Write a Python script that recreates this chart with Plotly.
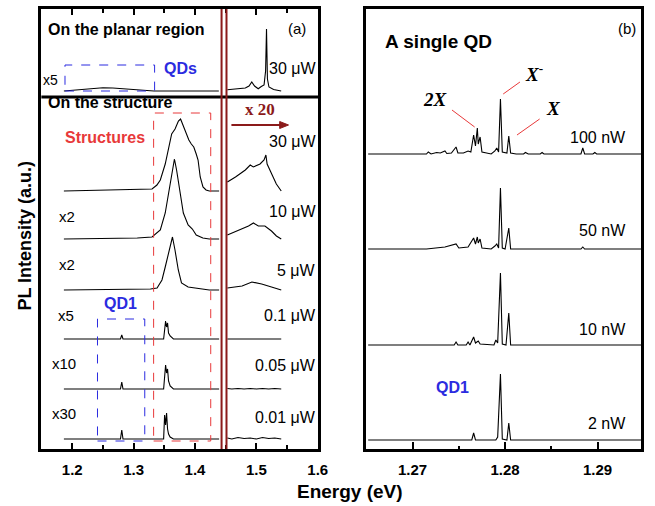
import plotly.graph_objects as go

W, H = 655, 506

# ---------------- Panel (a): energies (eV) and PL intensities (a.u., as displayed) -------------
planar_left_E = [1.1864, 1.210, 1.234, 1.250, 1.266, 1.290, 1.314, 1.333, 1.4388]
planar_left_I = [0, 1.5, 2.5, 3.3, 3, 2, 1, 0, 0]
planar_right_E = [1.4527, 1.470, 1.482, 1.488, 1.4925, 1.497, 1.503, 1.508, 1.5125, 1.5150,
                  1.5165, 1.5180, 1.5205, 1.528, 1.5404]
planar_right_I = [1.3, 2, 3, 5, 9, 5, 2.3, 4.5, 6, 20, 62, 12, 4, 1.5, 0]

s30_left_E = [1.1864, 1.2423, 1.330, 1.338, 1.3435, 1.3515, 1.357, 1.362, 1.3675, 1.373, 1.3765,
              1.3785, 1.381, 1.384, 1.386, 1.390, 1.394, 1.398, 1.402, 1.405, 1.4085, 1.413,
              1.418, 1.4233, 1.4393]
s30_left_I = [0, 0.7, 2, 6, 11, 27, 44, 57, 62, 70, 72, 69, 66, 61, 57, 51, 47, 44, 37, 31, 14, 4,
              1, 0, 0]
s30_right_E = [1.4527, 1.466, 1.482, 1.490, 1.495, 1.506, 1.5125, 1.5155, 1.5175, 1.5245, 1.5325, 1.5405]
s30_right_I = [9, 14, 21, 26, 24, 27, 31, 36, 27, 17, 7, 0]

s10_left_E = [1.1864, 1.306, 1.330, 1.3435, 1.3515, 1.357, 1.362, 1.3665, 1.370, 1.3754, 1.381,
              1.3888, 1.3957, 1.402, 1.4128, 1.4233, 1.4393]
s10_left_I = [0, 1, 2, 9, 26, 46, 66, 80, 69, 46, 26, 14, 10, 4, 1, 0, 0]
s10_right_E = [1.4527, 1.4712, 1.4872, 1.4952, 1.5032, 1.5139, 1.5246, 1.5326, 1.5405]
s10_right_I = [4, 9, 13, 16, 13, 13, 8, 3, 0]

s5_left_E = [1.1864, 1.3275, 1.3382, 1.3462, 1.3515, 1.357, 1.3633, 1.3674, 1.3728, 1.378, 1.3888,
             1.4233, 1.4393]
s5_left_I = [0, 1, 2, 10, 23, 37, 53, 40, 20, 7, 3, 0, 0]
s5_right_E = [1.4527, 1.4767, 1.4927, 1.5086, 1.5246, 1.5405]
s5_right_I = [2, 4, 8, 6, 3, 0]

low_left_E = [1.1864, 1.2786, 1.2807, 1.2827, 1.3489, 1.3505, 1.3521, 1.3537, 1.3553, 1.3569,
              1.3595, 1.3649, 1.4393]
s01_left_I = [0, 0, 4, 0, 0, 14, 18, 12, 16, 6, 3, 0, 0]
s005_left_I = [0, 0, 7, 0, 0, 18, 24, 16, 20, 8, 3, 0, 0]
s001_left_I = [0, 0, 9, 0, 0, 24, 14, 26, 10, 5, 2, 0, 0]
low_right_E = [1.4527, 1.46, 1.47, 1.48, 1.49, 1.50, 1.51, 1.52, 1.53, 1.5405]
s01_right_I = [0, 0, 0, 0, 0, 0, 0, 0, 0, 0]
s005_right_I = [0.5, 0, 0.5, 0, 0.5, 0, 0.5, 0, 0.5, 0]
s001_right_I = [1, 0, 1.5, 0.5, 1, 0, 1.5, 0.5, 1, 0]

x_ticks_a = [1.2, 1.3, 1.4, 1.5, 1.6]
x_minor_a = [1.25, 1.35, 1.45, 1.55]

# ---------------- Panel (b): a single QD -------------
b100_E = [1.2652, 1.2700, 1.2715, 1.2717, 1.2720, 1.2726, 1.2730, 1.2735, 1.2737, 1.2742, 1.2747,
          1.2749, 1.2755, 1.2760, 1.2763, 1.2766, 1.2768, 1.2770, 1.2771, 1.2773, 1.2775, 1.2780,
          1.2785, 1.2789, 1.2791, 1.2793, 1.2795, 1.2797, 1.2800, 1.2802, 1.2804, 1.2806, 1.2812,
          1.2820, 1.2822, 1.2825, 1.2838, 1.2840, 1.2842, 1.2882, 1.2884, 1.2886, 1.2895, 1.2897,
          1.2899, 1.2947]
b100_I = [0, 0, 0, 2, 0, 1.5, 1, 3, 0.5, 1, 7,
          1, 1, 3, 2, 19, 8, 26, 10, 17, 2, 1,
          0, 3, 6, 2, 55, 2, 1, 1, 18, 1, 0,
          0, 1.5, 0, 0, 1.5, 0, 0, 6, 0, 0, 1.5,
          0, 0]
b50_E = [1.2652, 1.2715, 1.2725, 1.2735, 1.2747, 1.2750, 1.2760, 1.2766, 1.2768, 1.2770, 1.2771,
         1.2773, 1.2775, 1.2785, 1.2789, 1.2791, 1.2793, 1.2795, 1.2797, 1.2800, 1.2804, 1.2806,
         1.2812, 1.2882, 1.2884, 1.2886, 1.2947]
b50_I = [0, 0, 1, 2, 5, 1, 2, 11, 5, 12, 6,
         10, 1, 0, 3, 5, 1, 61, 1, 0, 21, 0,
         0, 0, 2, 0, 0]
b10_E = [1.2652, 1.2745, 1.2747, 1.2749, 1.2758, 1.2760, 1.2762, 1.2766, 1.2768, 1.2771, 1.2773,
         1.2788, 1.2790, 1.2792, 1.2795, 1.2797, 1.2801, 1.2804, 1.2806, 1.2947]
b10_I = [0, 0, 3, 0, 0, 3, 0, 8, 2, 4, 1,
         0, 5, 2, 72, 1, 0, 32, 0, 0]
b2_E = [1.2652, 1.2764, 1.2766, 1.2768, 1.2790, 1.2792, 1.2795, 1.2797, 1.2802, 1.2804, 1.2806, 1.2947]
b2_I = [0, 0, 7, 0, 0, 3, 66, 1, 0, 17, 0, 0]

x_ticks_b = [1.27, 1.28, 1.29]
x_minor_b = [1.275, 1.285]

# ---------------- layout helpers -------------
SANS = "Liberation Sans, Arial, sans-serif"
SERIF = "Liberation Serif, Times New Roman, serif"
MAROON = "#8B1A1A"
RED = "#E8393A"
BLUE = "#2B2BE0"


def px(x):
    return x / W


def py(y):
    return 1 - y / H


fig = go.Figure()


def add_curve(E, I, offset, xa="x", ya="y"):
    fig.add_trace(go.Scatter(x=E, y=[v + offset for v in I], mode="lines",
                             line=dict(color="black", width=1.1), xaxis=xa, yaxis=ya,
                             showlegend=False, hoverinfo="skip"))


# panel (a) vertical offsets (stacking)
add_curve(planar_left_E, planar_left_I, 358)
add_curve(planar_right_E, planar_right_I, 358)
for le, li, re_, ri, off in [
    (s30_left_E, s30_left_I, s30_right_E, s30_right_I, 258),
    (s10_left_E, s10_left_I, s10_right_E, s10_right_I, 210),
    (s5_left_E, s5_left_I, s5_right_E, s5_right_I, 159),
    (low_left_E, s01_left_I, low_right_E, s01_right_I, 110),
    (low_left_E, s005_left_I, low_right_E, s005_right_I, 60),
    (low_left_E, s001_left_I, low_right_E, s001_right_I, 10),
]:
    add_curve(le, li, off)
    add_curve(re_, ri, off)

# panel (b)
for E, I, off in [(b100_E, b100_I, 295), (b50_E, b50_I, 200), (b10_E, b10_I, 104), (b2_E, b2_I, 9)]:
    add_curve(E, I, off, "x2", "y2")

ydom = [py(449), py(9)]
axis_common = dict(showline=True, linecolor="black", linewidth=2.5, showgrid=False,
                   zeroline=False)
tickfont = dict(family=SANS, size=15, color="black", weight="bold")
fig.update_layout(
    width=W, height=H, margin=dict(l=0, r=0, t=0, b=0),
    paper_bgcolor="white", plot_bgcolor="white", showlegend=False,
    xaxis=dict(domain=[px(42), px(323)], range=[1.1497, 1.6005], anchor="y",
               tickvals=x_ticks_a, ticktext=[f"{v:.1f}" for v in x_ticks_a],
               ticks="inside", ticklen=6, tickwidth=2, tickcolor="black", mirror="allticks",
               minor=dict(tickvals=x_minor_a, ticks="inside", ticklen=4, tickwidth=1.5,
                          tickcolor="black", showgrid=False),
               tickfont=tickfont, ticklabelstandoff=5, **axis_common),
    yaxis=dict(domain=ydom, range=[0, 440], anchor="x", showticklabels=False, ticks="",
               mirror=True, **axis_common),
    xaxis2=dict(domain=[px(372), px(651)], range=[1.265, 1.2947], anchor="y2",
                tickvals=x_ticks_b, ticktext=[f"{v:.2f}" for v in x_ticks_b],
                ticks="inside", ticklen=7, tickwidth=2, tickcolor="black", mirror=True,
                minor=dict(tickvals=x_minor_b, ticks="inside", ticklen=3, tickwidth=1.5,
                           tickcolor="black", showgrid=False),
                tickfont=tickfont, ticklabelstandoff=5, **axis_common),
    yaxis2=dict(domain=ydom, range=[0, 440], anchor="x2", showticklabels=False, ticks="",
                mirror=True, **axis_common),
)

shapes = []
# divider between planar region and structure
shapes.append(dict(type="line", xref="paper", yref="paper", x0=px(42), x1=px(323),
                   y0=py(97), y1=py(97), line=dict(color="black", width=2.8)))
# double maroon break lines
for xx in (225, 230):
    shapes.append(dict(type="line", xref="paper", yref="paper", x0=px(xx), x1=px(xx),
                       y0=py(9), y1=py(449), line=dict(color=MAROON, width=2)))
# dashed boxes
shapes.append(dict(type="rect", xref="paper", yref="paper", x0=px(66), x1=px(157),
                   y0=py(91), y1=py(65), line=dict(color=BLUE, width=1, dash="dash")))
shapes.append(dict(type="rect", xref="paper", yref="paper", x0=px(156), x1=px(214),
                   y0=py(441), y1=py(113), line=dict(color=RED, width=1, dash="dash")))
shapes.append(dict(type="rect", xref="paper", yref="paper", x0=px(99), x1=px(147),
                   y0=py(441), y1=py(319), line=dict(color=BLUE, width=1, dash="dash")))
# "x 20" arrow
shapes.append(dict(type="line", xref="paper", yref="paper", x0=px(235), x1=px(286),
                   y0=py(125), y1=py(125), line=dict(color=MAROON, width=2)))
shapes.append(dict(type="path", xref="paper", yref="paper",
                   path=f"M {px(293)} {py(125)} L {px(284)} {py(121.5)} L {px(284)} {py(128.5)} Z",
                   fillcolor=MAROON, line=dict(color=MAROON, width=1)))
# leader lines in (b)
for (xa, ya, xb, yb) in [(459, 110, 482, 127), (528, 82, 511, 94), (548, 119, 525, 135)]:
    shapes.append(dict(type="line", xref="paper", yref="paper", x0=px(xa), y0=py(ya),
                       x1=px(xb), y1=py(yb), line=dict(color=RED, width=1)))
fig.update_layout(shapes=shapes)

anns = []


def ann(text, x, y, size=14, color="black", family=SANS, xanchor="center", angle=0):
    anns.append(dict(text=text, x=px(x), y=py(y), xref="paper", yref="paper", showarrow=False,
                     xanchor=xanchor, yanchor="middle", textangle=angle,
                     font=dict(family=family, size=size, color=color)))


ann("<b>On the planar region</b>", 47, 30, 16, xanchor="left")
ann("(a)", 302, 28, 15)
ann("<b>QDs</b>", 183, 68, 16, BLUE)
ann("x5", 51, 80, 14)
ann("30 \u03bcW", 323, 68, 16, xanchor="right")
ann("<b>On the structure</b>", 47, 103, 16, xanchor="left")
ann("<b>Structures</b>", 107, 137, 16, RED)
ann("<b>QD1</b>", 122, 303, 16, BLUE)
for txt, yy in [("30 \u03bcW", 142), ("10 \u03bcW", 211), ("5 \u03bcW", 270),
                ("0.1 \u03bcW", 315), ("0.05 \u03bcW", 365), ("0.01 \u03bcW", 417)]:
    ann(txt, 323, yy, 16, xanchor="right")
for txt, xx, yy in [("x2", 68, 217), ("x2", 68, 264), ("x5", 67, 315), ("x10", 65, 363),
                    ("x30", 65, 413)]:
    ann(txt, xx, yy, 15)
ann("<b>x 20</b>", 264, 110, 17, MAROON, SERIF)

ann("<b>A single QD</b>", 445, 42, 19)
ann("(b)", 637, 28, 15)
ann("<b><i>2X</i></b>", 442, 100, 19, family=SERIF)
ann("<b><i>X</i></b><sup><b>-</b></sup>", 542, 73, 19, family=SERIF)
ann("<b><i>X</i></b>", 562, 108, 19, family=SERIF)
for txt, yy in [("100 nW", 137), ("50 nW", 230), ("10 nW", 329), ("2 nW", 423)]:
    ann(txt, 638, yy, 16, xanchor="right")
ann("<b>QD1</b>", 460, 387, 16, BLUE)

ann("<b>Energy (eV)</b>", 355, 491, 19)
ann("<b>PL Intensity (a.u.)</b>", 25, 236, 18, angle=-90)
fig.update_layout(annotations=anns)

fig.write_html("out.html", config={"displayModeBar": False},
               post_script="document.body.style.margin='0';"
                           "document.body.style.overflow='hidden';")
